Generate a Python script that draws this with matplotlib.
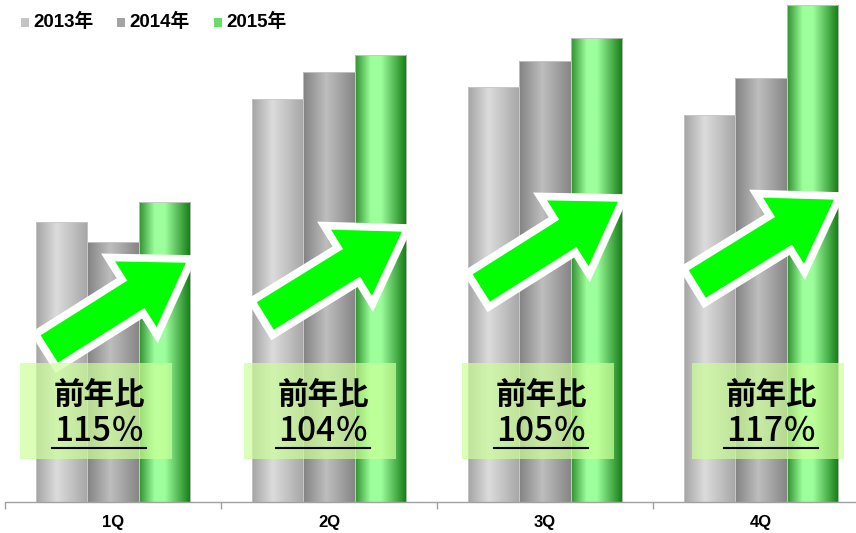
import numpy as np
import matplotlib
matplotlib.use("Agg")
import matplotlib.pyplot as plt
from matplotlib.colors import LinearSegmentedColormap
from matplotlib.patches import Polygon, Rectangle
from matplotlib.lines import Line2D
from matplotlib.transforms import IdentityTransform

quarters = ["1Q", "2Q", "3Q", "4Q"]
series = ["2013年", "2014年", "2015年"]
sales_2013 = [280, 403, 415, 387]
sales_2014 = [260, 430, 441, 424]
sales_2015 = [300, 447, 464, 497]

# cylinder-like shading stops for each series
SHADES = [
    [(0.0, "#a4a4a4"), (0.4, "#dcdcdc"), (1.0, "#a6a6a6")],
    [(0.0, "#828282"), (0.45, "#bebebe"), (1.0, "#868686")],
    [(0.0, "#2d8f2d"), (0.3, "#9cff9c"), (0.5, "#9cff9c"), (1.0, "#127a12")],
]
LEGEND_FACE = ["#c4c4c4", "#a4a4a4", "#66dd66"]

# layout (data units)
BAR_W = 0.2385
ARROW_Y = [(151, 243), (184, 274), (212, 304), (216, 306)]
BOX_SHIFT = [-0.079, -0.042, -0.032, 0.032]

JP = ["Noto Sans CJK JP", "DejaVu Sans"]
LATIN = ["Liberation Sans", "Noto Sans CJK JP", "DejaVu Sans"]

W, H, DPI = 856, 533, 100
fig = plt.figure(figsize=(W / DPI, H / DPI), dpi=DPI)
fig.patch.set_facecolor("white")
ax = fig.add_axes([5 / W, 31 / H, 864 / W, 500 / H])

values = [sales_2013, sales_2014, sales_2015]
grad = np.linspace(0, 1, 256).reshape(1, -1)
for i, (vals, stops) in enumerate(zip(values, SHADES)):
    cmap = LinearSegmentedColormap.from_list(f"shade{i}", stops)
    for q, v in enumerate(vals):
        x0 = q + (i - 1.5) * BAR_W
        ax.imshow(grad, cmap=cmap, extent=[x0, x0 + BAR_W, 0, v],
                  aspect="auto", interpolation="bilinear", zorder=2)
        ax.add_patch(Rectangle((x0, 0), BAR_W, v, fill=False,
                               edgecolor="#c8c8c8", linewidth=0.6, zorder=2.1))
ax.set_xlim(-0.5, 3.5)
ax.set_ylim(0, 500)

# axis styling
for side in ["top", "right", "left"]:
    ax.spines[side].set_visible(False)
ax.spines["bottom"].set_color("#a0a0a0")
ax.spines["bottom"].set_linewidth(1.0)
ax.set_yticks([])
ax.set_xticks(np.arange(-0.5, 4.0, 1.0))
ax.set_xticklabels([])
ax.tick_params(axis="x", which="major", length=5, color="#a0a0a0", width=1.0)
ax.set_xticks(range(len(quarters)), minor=True)
ax.set_xticklabels(quarters, minor=True, fontsize=12, fontweight="bold", family=LATIN)
ax.tick_params(axis="x", which="minor", length=0, pad=9)

fig.canvas.draw()
renderer = fig.canvas.get_renderer()


def block_arrow(tail, tip, shaft=20, head=46, head_len=70):
    tail = np.asarray(tail, float)
    tip = np.asarray(tip, float)
    d = tip - tail
    L = np.hypot(*d)
    u = d / L
    n = np.array([-u[1], u[0]])
    base = tail + u * (L - head_len)
    return np.array([
        tail + n * shaft, base + n * shaft, base + n * head, tip,
        base - n * head, base - n * shaft, tail - n * shaft,
    ])


v14 = np.array(sales_2014, float)
v15 = np.array(sales_2015, float)
ratios = np.round(v15 / v14 * 100).astype(int)

for q in range(len(quarters)):
    # growth arrow
    y_tail, y_tip = ARROW_Y[q]
    tail = ax.transData.transform((q - 0.31, y_tail))
    tip = ax.transData.transform((q + 0.365, y_tip))
    pts = block_arrow(tail, tip)
    ax.add_patch(Polygon(pts, closed=True, facecolor="#00ff00", edgecolor="white",
                         linewidth=5.5, joinstyle="miter", transform=IdentityTransform(),
                         zorder=5, clip_on=False))

    # year-on-year box
    bx = q + BOX_SHIFT[q]
    ax.add_patch(Rectangle((bx - 0.352, 43), 0.704, 96, facecolor="#ccff99",
                           edgecolor="none", alpha=0.7, zorder=6))
    tx = bx + 0.014
    ax.text(tx, 107, "前年比", ha="center", va="center", fontsize=22,
            fontweight="bold", family=JP, zorder=7)
    t = ax.text(tx, 71, f"{ratios[q]}％", ha="center", va="center", fontsize=24,
                fontweight="medium", family=JP, zorder=7)
    bb = t.get_window_extent(renderer)
    y_ul = ax.transData.transform((0, 54))[1]
    ax.add_line(Line2D([bb.x0 - 2, bb.x1 + 2], [y_ul, y_ul], color="black", linewidth=1.5,
                       transform=IdentityTransform(), zorder=7))

# legend row at the top
lx = [21, 117, 214]
for name, face, x in zip(series, LEGEND_FACE, lx):
    fig.patches.append(Rectangle((x / W, (H - 27) / H), 8 / W, 9 / H, facecolor=face,
                                 edgecolor="none", transform=fig.transFigure))
    fig.text((x + 12) / W, (H - 22) / H, name, ha="left", va="center", fontsize=13.5,
             fontweight="bold", family=LATIN)

fig.savefig("out.png", dpi=DPI)
